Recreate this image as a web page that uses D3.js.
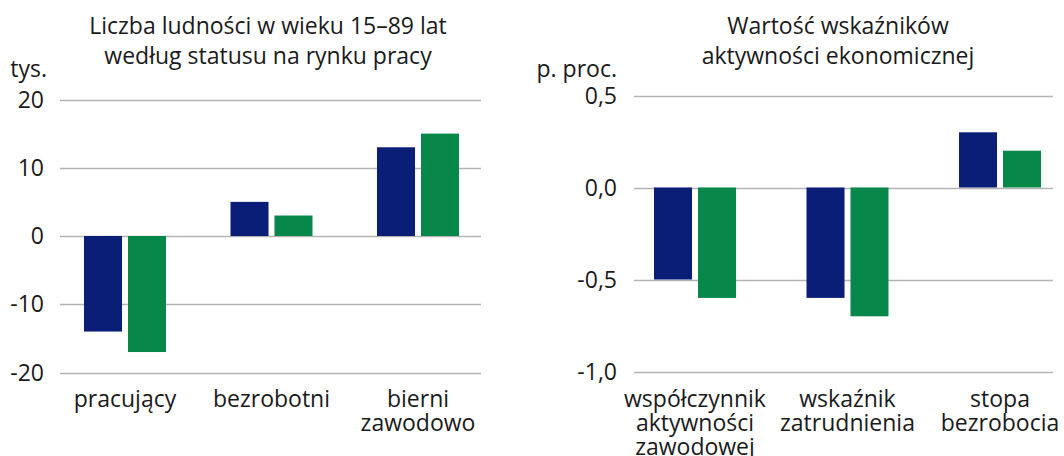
<!DOCTYPE html>
<html><head><meta charset="utf-8">
<script src="https://cdn.jsdelivr.net/npm/d3@7"></script>
<style>body{margin:0;background:#fff}svg{display:block}text{font-family:"Open Sans",sans-serif;fill:#1a1a1a}</style>
</head><body><svg id="c" width="1064" height="456"></svg>
<script>
const leftCategories = [["pracujący"], ["bezrobotni"], ["bierni", "zawodowo"]];
const leftSeries1 = [-14, 5, 13];
const leftSeries2 = [-17, 3, 15];
const leftTicks = [20, 10, 0, -10, -20];
const leftTitle = ["Liczba ludności w wieku 15–89 lat", "według statusu na rynku pracy"];
const leftUnit = "tys.";

const rightCategories = [["współczynnik", "aktywności", "zawodowej"], ["wskaźnik", "zatrudnienia"], ["stopa", "bezrobocia"]];
const rightSeries1 = [-0.5, -0.6, 0.3];
const rightSeries2 = [-0.6, -0.7, 0.2];
const rightTicks = [0.5, 0.0, -0.5, -1.0];
const rightTitle = ["Wartość wskaźników", "aktywności ekonomicznej"];
const rightUnit = "p. proc.";

const colors = ["#0a1e78", "#07874a"];
const svg = d3.select("#c");
const FS = 23;

function panel(cfg) {
  const g = svg.append("g");
  const y = d3.scaleLinear().domain(cfg.domain).range(cfg.yRange);
  const x = d3.scaleBand().domain(d3.range(cfg.cats.length)).range(cfg.xRange);
  const x1 = d3.scaleBand().domain([0, 1]).range([0, 82]).paddingInner(0.136);
  g.selectAll(".grid").data(cfg.ticks).join("line")
    .attr("x1", cfg.gridX[0]).attr("x2", cfg.gridX[1])
    .attr("y1", d => Math.round(y(d)) + 0.5).attr("y2", d => Math.round(y(d)) + 0.5)
    .attr("stroke", "#b4b4b4").attr("stroke-width", 1.3);
  g.selectAll(".tl").data(cfg.ticks).join("text")
    .attr("x", cfg.tickX).attr("y", d => y(d)).attr("dy", "0.35em")
    .attr("text-anchor", "end").attr("font-size", FS)
    .text(cfg.fmt);
  g.append("text").attr("x", cfg.unitX).attr("y", cfg.unitY).attr("text-anchor", "end")
    .attr("font-size", FS).text(cfg.unit);
  [cfg.s1, cfg.s2].forEach((s, si) => {
    g.selectAll(".b" + si).data(s).join("rect")
      .attr("x", (d, i) => x(i) + x.bandwidth() / 2 - 41 + x1(si))
      .attr("width", x1.bandwidth())
      .attr("y", d => y(Math.max(0, d)))
      .attr("height", d => Math.abs(y(d) - y(0)))
      .attr("fill", colors[si]);
  });
  cfg.cats.forEach((lines, i) => {
    const cx = x(i) + x.bandwidth() / 2;
    const t = g.append("text").attr("text-anchor", "middle").attr("font-size", FS)
      .attr("x", cx).attr("y", cfg.catY);
    lines.forEach((l, li) => t.append("tspan").attr("x", cx).attr("dy", li ? 24 : 0).text(l));
  });
  const tt = g.append("text").attr("text-anchor", "middle").attr("font-size", FS).attr("y", 34);
  cfg.title.forEach((l, li) => tt.append("tspan").attr("x", cfg.titleX).attr("dy", li ? 30 : 0).text(l));
}

panel({
  domain: [-20, 20], yRange: [372.5, 99.5], xRange: [51.75, 491.25], gridX: [60, 481],
  ticks: leftTicks, tickX: 44, unitX: 47, unitY: 77, unit: leftUnit,
  fmt: d => String(d), s1: leftSeries1, s2: leftSeries2, cats: leftCategories,
  catY: 407, title: leftTitle, titleX: 268
});
panel({
  domain: [-1, 0.5], yRange: [371.5, 95.5], xRange: [618.75, 1076.25], gridX: [634, 1053],
  ticks: rightTicks, tickX: 617, unitX: 617, unitY: 77, unit: rightUnit,
  fmt: d => d3.format(".1f")(d).replace(".", ",").replace("−", "-"), s1: rightSeries1, s2: rightSeries2, cats: rightCategories,
  catY: 407, title: rightTitle, titleX: 838
});
</script></body></html>
